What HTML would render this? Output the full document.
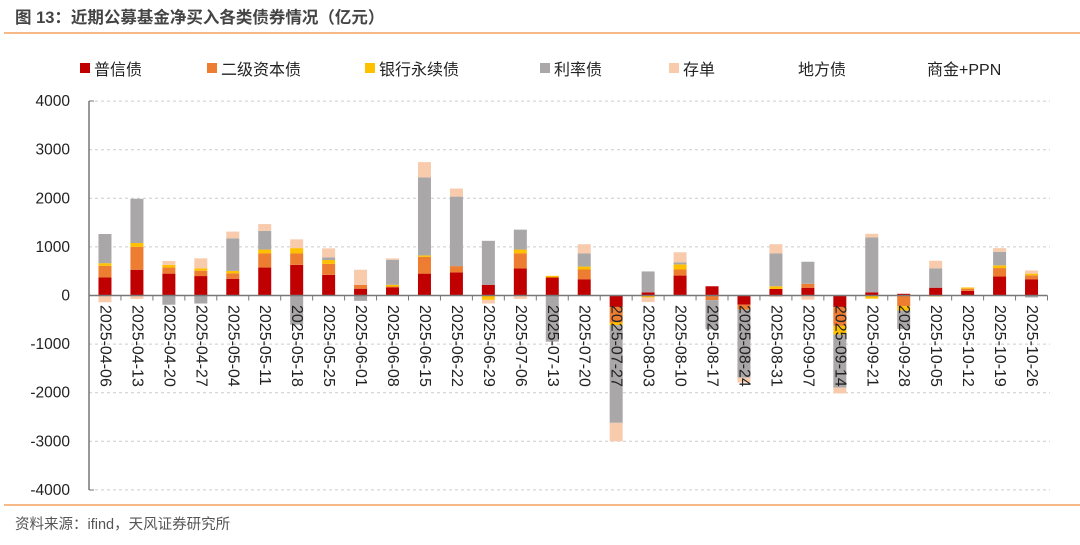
<!DOCTYPE html>
<html><head><meta charset="utf-8"><style>
html,body{margin:0;padding:0;background:#fff;}
body{width:1080px;height:540px;overflow:hidden;font-family:"Liberation Sans","Noto Sans CJK SC",sans-serif;}
</style></head><body>
<svg id="c" width="1080" height="540" xmlns="http://www.w3.org/2000/svg" font-family="Liberation Sans, Noto Sans CJK SC, sans-serif">
<text x="15" y="23" font-size="16.5" font-weight="bold" fill="#444">图 13：近期公募基金净买入各类债券情况（亿元）</text>
<line x1="4" y1="33" x2="1080" y2="33" stroke="#F4A460" stroke-width="1.5"/>
<line x1="4" y1="505" x2="1080" y2="505" stroke="#F4A460" stroke-width="1.5"/>
<text x="15" y="529" font-size="14.5" fill="#555">资料来源：ifind，天风证券研究所</text>
<g font-size="16" fill="#222">
<rect x="80" y="63" width="10" height="10" fill="#C00000"/><text x="94" y="75">普信债</text>
<rect x="207" y="63" width="10" height="10" fill="#ED7D31"/><text x="221" y="75">二级资本债</text>
<rect x="365" y="63" width="10" height="10" fill="#FFC000"/><text x="379" y="75">银行永续债</text>
<rect x="540" y="63" width="10" height="10" fill="#A9A7A7"/><text x="554" y="75">利率债</text>
<rect x="669" y="63" width="10" height="10" fill="#F8CBAD"/><text x="683" y="75">存单</text>
<text x="798" y="75">地方债</text>
<text x="927" y="75">商金+PPN</text>
</g>
<g id="grid"></g><g id="bars"></g><g id="lbl"></g>
</svg>
<script>
var NS="http://www.w3.org/2000/svg";
function el(p,t,a,txt){var e=document.createElementNS(NS,t);for(var k in a)e.setAttribute(k,a[k]);if(txt)e.textContent=txt;p.appendChild(e);return e;}
var g=document.getElementById('grid'),b=document.getElementById('bars'),l=document.getElementById('lbl');
var Z=295.5,S=0.0486,X0=89,W=31.95;
for(var v=-4000;v<=4000;v+=1000){var y=Z-v*S;
 if(v!=0)el(g,'line',{x1:X0,x2:1050,y1:y,y2:y,stroke:'#ccc','stroke-dasharray':'3,3'});
 el(g,'text',{x:70,y:y+5,'font-size':15.5,'text-anchor':'end',fill:'#222'},String(v));}
el(g,'line',{x1:X0,x2:X0,y1:101,y2:490,stroke:'#777','stroke-width':1.5});
el(g,'line',{x1:X0,x2:X0+5,y1:101,y2:101,stroke:'#777'});
el(g,'line',{x1:X0,x2:X0+5,y1:490,y2:490,stroke:'#777'});
var C=['#C00000','#ED7D31','#FFC000','#A9A7A7','#F8CBAD'];
var D=[
[370,240,55,600,-140],[530,470,80,910,-70],[450,125,55,-190,80],[400,110,50,-165,205],[345,110,50,670,140],
[575,290,80,385,140],[630,235,110,-600,180],[425,225,80,55,185],[140,80,0,-110,310],[165,20,35,515,30],
[450,345,30,1605,315],[475,130,0,1430,165],[220,0,-90,905,-75],[555,310,80,410,-70],[370,0,35,-950,0],
[335,200,60,270,190],[-235,-320,-55,-2010,-380],[65,0,-40,430,-95],[410,125,105,40,210],[190,-95,0,-600,0],
[-190,-100,0,-1400,-100],[135,-20,55,675,190],[160,80,0,455,-85],[-235,-390,-180,-1090,-120],[65,0,-65,1130,75],
[35,-220,-90,-380,0],[160,0,-20,400,155],[95,45,25,0,0],[390,175,55,280,75],[335,80,35,-40,65]];
var labels=[];var d0=new Date(2025,3,6);
for(var i=0;i<30;i++){var d=new Date(d0.getTime()+i*7*864e5);
 labels.push('2025-'+String(d.getMonth()+1).padStart(2,'0')+'-'+String(d.getDate()).padStart(2,'0'));}
for(var i=0;i<30;i++){var cx=X0+W*(i+0.5),pos=0,neg=0;
 for(var s=0;s<5;s++){var v=D[i][s];if(!v)continue;var h=Math.abs(v)*S;
  if(v>0){pos+=h;el(b,'rect',{x:cx-6.5,y:Z-pos,width:13,height:h,fill:C[s]});}
  else{el(b,'rect',{x:cx-6.5,y:Z+neg,width:13,height:h,fill:C[s]});neg+=h;}}
 el(g,'line',{x1:X0+W*(i+1),x2:X0+W*(i+1),y1:Z,y2:Z+5,stroke:'#777'});
 el(l,'text',{x:cx,y:305,'font-size':16,fill:'#222','dominant-baseline':'central',transform:'rotate(90 '+cx+' 305)'},labels[i]);
}
el(b,'line',{x1:X0,x2:X0+W*30,y1:Z,y2:Z,stroke:'#777','stroke-width':1.5});
</script>
</body></html>
